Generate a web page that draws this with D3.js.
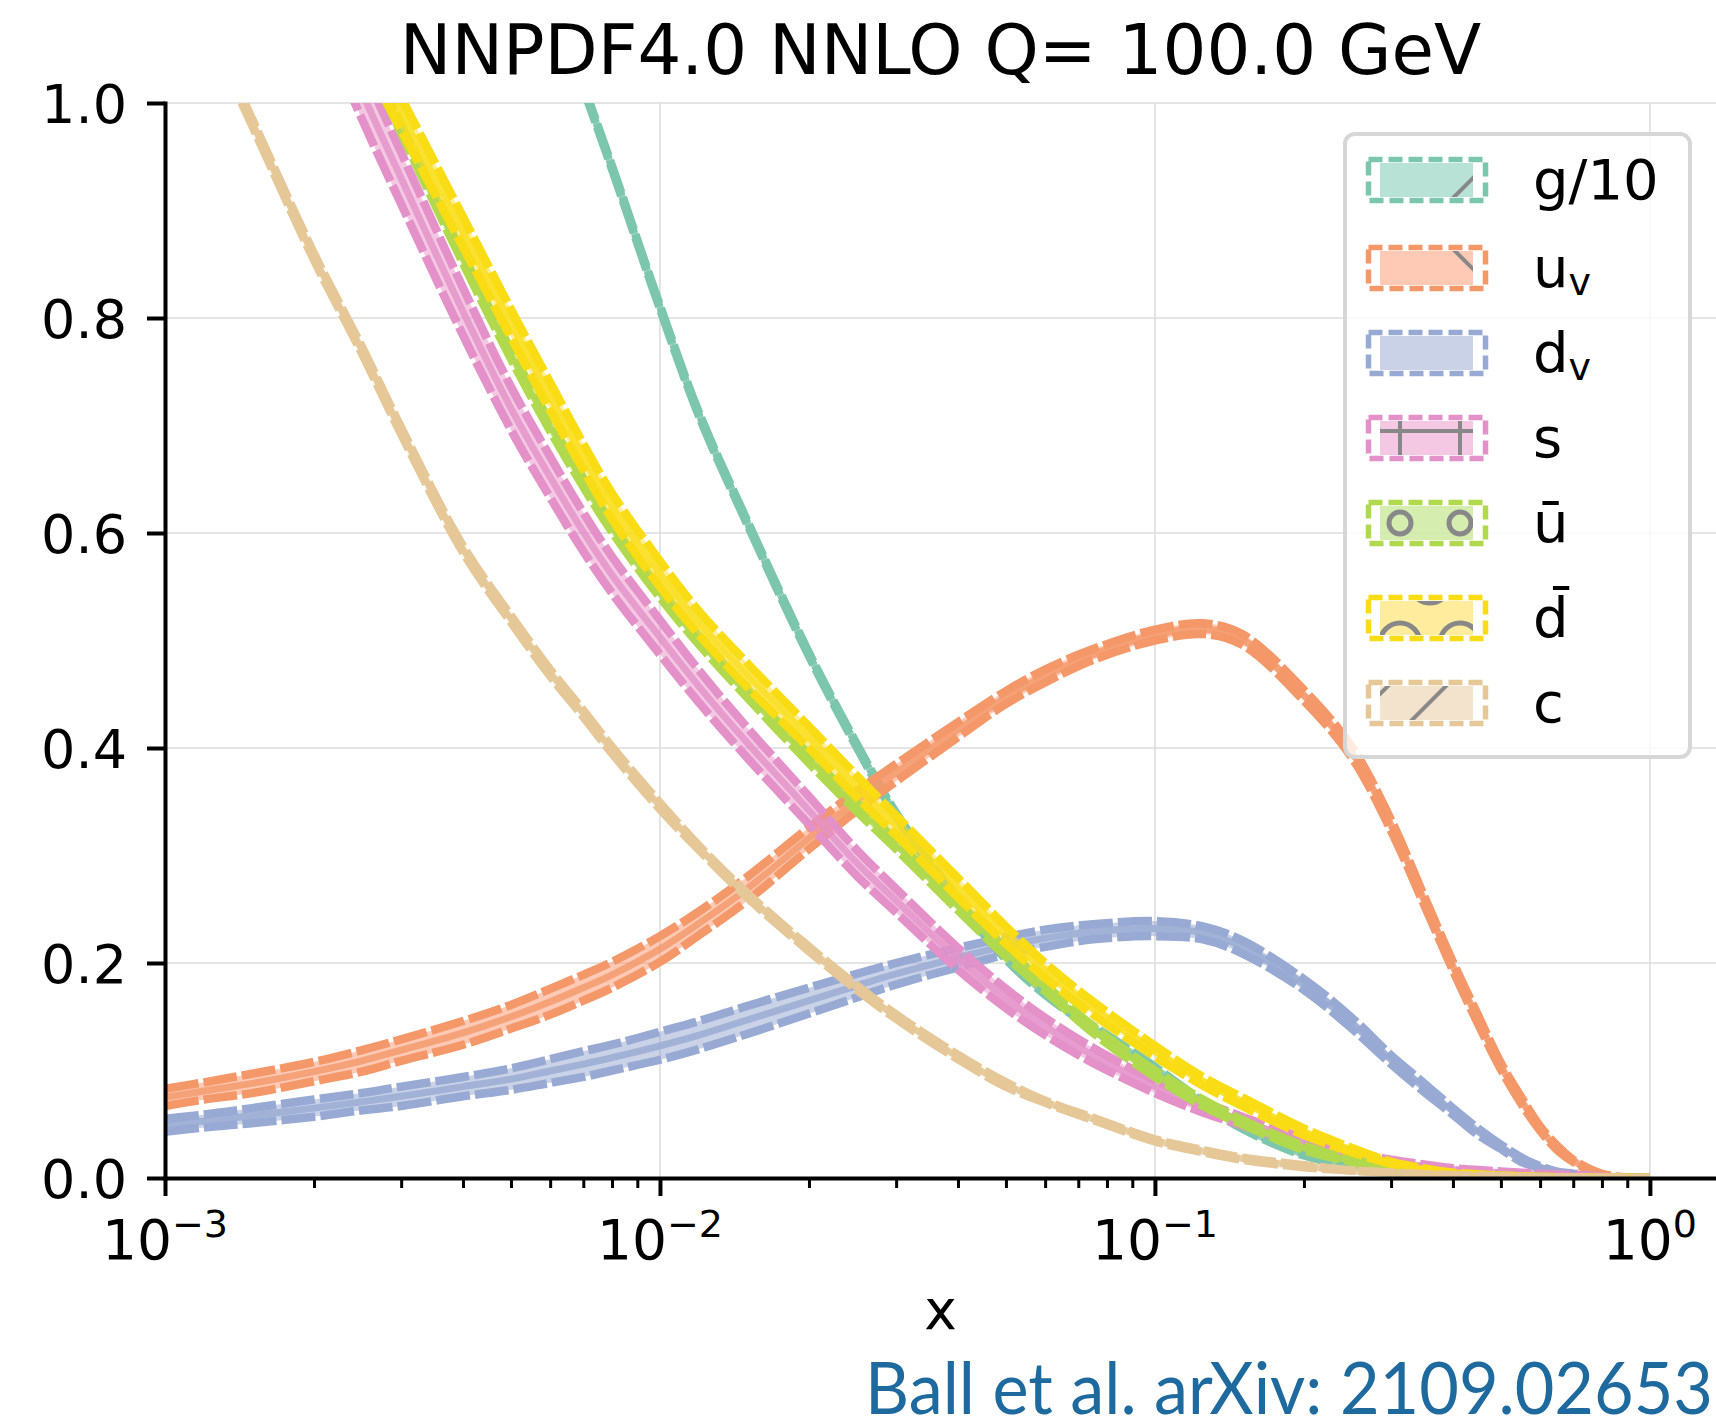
<!DOCTYPE html>
<html>
<head>
<meta charset="utf-8">
<script src="https://cdn.jsdelivr.net/npm/d3@7"></script>
<style>
  body { margin: 0; background: #fff; }
  svg { display: block; font-family: 'DejaVu Sans', sans-serif; }
</style>
</head>
<body>
<svg id="chart"></svg>
<script>
// x grid shared by all the PDFs (Q = 100 GeV)
let xGrid = [0.001, 0.0012, 0.0015, 0.002, 0.0025, 0.003, 0.004, 0.005, 0.006, 0.007, 0.008,
  0.01, 0.012, 0.015, 0.02, 0.025, 0.03, 0.04, 0.05, 0.06, 0.075,
  0.1, 0.125, 0.15, 0.2, 0.25, 0.3, 0.35, 0.4, 0.45, 0.5, 0.55, 0.6, 0.65, 0.7, 0.8, 0.9, 1.0];

// central values (null = off the top of the plot)
let gluon10 = [null, null, null, null, null, null, null, 1.22, 1.10, 1.015, 0.94,
  0.81, 0.71, 0.61, 0.487, 0.402, 0.338, 0.258, 0.205, 0.172, 0.140,
  0.102, 0.070, 0.047, 0.022, 0.012, 0.006, 0.003, 0.0018, 0.001, 0.0006, 0.0003, 0.0002, 0.0001, 0.0001, 0, 0, 0];
let uValence = [0.075, 0.081, 0.088, 0.099, 0.109, 0.119, 0.135, 0.150, 0.164, 0.177, 0.189,
  0.213, 0.237, 0.269, 0.316, 0.351, 0.377, 0.417, 0.447, 0.467, 0.487,
  0.505, 0.511, 0.501, 0.449, 0.396, 0.328, 0.258, 0.197, 0.147, 0.104, 0.072, 0.046, 0.028, 0.016, 0.003, 0.0005, 0];
let dValence = [0.049, 0.053, 0.058, 0.065, 0.071, 0.076, 0.085, 0.092, 0.0995, 0.106, 0.112,
  0.123, 0.133, 0.147, 0.165, 0.179, 0.190, 0.205, 0.216, 0.223, 0.229,
  0.232, 0.228, 0.215, 0.180, 0.144, 0.110, 0.084, 0.062, 0.043, 0.029, 0.017, 0.010, 0.005, 0.003, 0.0005, 0, 0];
let strange = [null, null, null, 1.115, 1.01, 0.93, 0.806, 0.716, 0.652, 0.601, 0.561,
  0.503, 0.457, 0.405, 0.342, 0.293, 0.258, 0.204, 0.167, 0.141, 0.114,
  0.085, 0.066, 0.053, 0.034, 0.022, 0.015, 0.011, 0.008, 0.0065, 0.005, 0.004, 0.003, 0.0025, 0.002, 0.001, 0.0005, 0];
let uBar = [null, null, null, 1.15, 1.052, 0.976, 0.855, 0.766, 0.699, 0.647, 0.605,
  0.544, 0.50, 0.451, 0.39, 0.345, 0.31, 0.253, 0.21, 0.177, 0.138,
  0.097, 0.070, 0.052, 0.028, 0.016, 0.008, 0.005, 0.0035, 0.0025, 0.002, 0.0015, 0.001, 0.0008, 0.0005, 0.0003, 0.0001, 0];
let dBar = [null, null, null, 1.15, 1.06, 0.99, 0.88, 0.795, 0.727, 0.671, 0.625,
  0.562, 0.516, 0.468, 0.41, 0.364, 0.328, 0.27, 0.226, 0.193, 0.158,
  0.118, 0.090, 0.071, 0.043, 0.026, 0.014, 0.008, 0.0045, 0.003, 0.002, 0.0015, 0.001, 0.0007, 0.0005, 0.0002, 0.0001, 0];
let charm = [1.17, 1.08, 0.982, 0.857, 0.77, 0.695, 0.585, 0.52, 0.47, 0.432, 0.398,
  0.346, 0.307, 0.263, 0.213, 0.177, 0.150, 0.1125, 0.087, 0.071, 0.055,
  0.035, 0.025, 0.018, 0.011, 0.007, 0.005, 0.0035, 0.0025, 0.002, 0.0015, 0.001, 0.0008, 0.0006, 0.0004, 0.0002, 0.0001, 0];

// half-widths of the uncertainty bands
let gluon10Err = [0, 0, 0, 0, 0, 0, 0, 0.0015, 0.0015, 0.0015, 0.0015,
  0.0015, 0.0015, 0.0015, 0.0015, 0.0015, 0.0015, 0.0015, 0.0015, 0.0015, 0.0015,
  0.0015, 0.001, 0.001, 0.001, 0.0005, 0, 0, 0, 0, 0, 0, 0, 0, 0, 0, 0, 0];
let uValenceErr = [0.008, 0.008, 0.009, 0.009, 0.010, 0.010, 0.011, 0.011, 0.012, 0.012, 0.012,
  0.012, 0.011, 0.011, 0.010, 0.009, 0.008, 0.007, 0.006, 0.006, 0.005,
  0.005, 0.005, 0.005, 0.005, 0.005, 0.005, 0.004, 0.004, 0.004, 0.003, 0.003, 0.002, 0.002, 0.001, 0.001, 0, 0];
let dValenceErr = [0.006, 0.006, 0.007, 0.008, 0.008, 0.009, 0.009, 0.010, 0.011, 0.012, 0.012,
  0.013, 0.013, 0.013, 0.012, 0.011, 0.010, 0.009, 0.008, 0.008, 0.007,
  0.007, 0.006, 0.006, 0.005, 0.005, 0.004, 0.004, 0.003, 0.003, 0.002, 0.002, 0.001, 0.001, 0.001, 0, 0, 0];
let strangeErr = [0, 0, 0, 0.026, 0.025, 0.024, 0.022, 0.020, 0.019, 0.018, 0.017,
  0.016, 0.015, 0.014, 0.013, 0.012, 0.011, 0.010, 0.009, 0.008, 0.007,
  0.006, 0.005, 0.004, 0.003, 0.002, 0.002, 0.0015, 0.001, 0.001, 0.001, 0.001, 0.001, 0.001, 0.001, 0.0005, 0, 0];
let uBarErr = [0, 0, 0, 0.004, 0.004, 0.004, 0.004, 0.004, 0.004, 0.004, 0.004,
  0.004, 0.004, 0.004, 0.004, 0.004, 0.004, 0.004, 0.004, 0.003, 0.003,
  0.003, 0.003, 0.002, 0.002, 0.001, 0.001, 0.001, 0.0005, 0.0005, 0, 0, 0, 0, 0, 0, 0, 0];
let dBarErr = [0, 0, 0, 0.016, 0.015, 0.015, 0.014, 0.013, 0.013, 0.012, 0.012,
  0.012, 0.011, 0.011, 0.010, 0.010, 0.009, 0.009, 0.008, 0.007, 0.006,
  0.005, 0.004, 0.004, 0.003, 0.002, 0.001, 0.001, 0.0005, 0.0005, 0, 0, 0, 0, 0, 0, 0, 0];
let charmErr = [0.003, 0.003, 0.003, 0.003, 0.003, 0.003, 0.003, 0.003, 0.003, 0.003, 0.003,
  0.003, 0.002, 0.002, 0.002, 0.002, 0.002, 0.002, 0.002, 0.001, 0.001,
  0.001, 0.001, 0.001, 0.001, 0, 0, 0, 0, 0, 0, 0, 0, 0, 0, 0, 0, 0];

let yTicks = [0, 0.2, 0.4, 0.6, 0.8, 1.0];
let xTicks = [1e-3, 1e-2, 1e-1, 1];
let xTickExp = ['\u22123', '\u22122', '\u22121', '0'];

let width = 1716;
let height = 1423;
let plotLeft = 165, plotRight = 1716, plotTop = 103, plotBottom = 1178;

let series = [
  { values: gluon10, err: gluon10Err, line: '#7cc6ad', fill: '#66c2a5' },
  { values: uValence, err: uValenceErr, line: '#f4986a', fill: '#fc8d62' },
  { values: dValence, err: dValenceErr, line: '#98aad3', fill: '#8da0cb' },
  { values: strange, err: strangeErr, line: '#e391c8', fill: '#e78ac3' },
  { values: uBar, err: uBarErr, line: '#b0d94d', fill: '#a6d854' },
  { values: dBar, err: dBarErr, line: '#f9dc14', fill: '#ffd92f' },
  { values: charm, err: charmErr, line: '#e6c898', fill: '#e5c494' }
];

let xScale = d3.scaleLog()
  .domain([1e-3, 1.36])
  .range([plotLeft, plotRight]);

let yScale = d3.scaleLinear()
  .domain([0, 1])
  .range([plotBottom, plotTop]);

let svg = d3.select('#chart')
  .attr('width', width)
  .attr('height', height);

let defs = svg.append('defs');
defs.append('clipPath')
  .attr('id', 'plot-clip')
  .append('rect')
  .attr('x', plotLeft)
  .attr('y', plotTop)
  .attr('width', plotRight - plotLeft)
  .attr('height', plotBottom - plotTop);

// grid
svg.append('g')
  .selectAll('line')
  .data(yTicks.filter(d => d > 0))
  .enter()
  .append('line')
  .attr('x1', plotLeft)
  .attr('x2', plotRight)
  .attr('y1', d => yScale(d))
  .attr('y2', d => yScale(d))
  .style('stroke', '#dddddd')
  .style('stroke-width', 1.6);

svg.append('g')
  .selectAll('line')
  .data(xTicks.slice(1))
  .enter()
  .append('line')
  .attr('x1', d => xScale(d))
  .attr('x2', d => xScale(d))
  .attr('y1', plotTop)
  .attr('y2', plotBottom)
  .style('stroke', '#dddddd')
  .style('stroke-width', 1.6);

// PDF bands
let plot = svg.append('g').attr('clip-path', 'url(#plot-clip)');
let curve = d3.curveCatmullRom.alpha(0.5);

series.forEach(s => {
  let pts = xGrid.map((x, j) => ({ x: x, v: s.values[j], e: s.err[j] }))
    .filter(d => d.v !== null);

  let area = d3.area()
    .x(d => xScale(d.x))
    .y0(d => yScale(d.v - d.e))
    .y1(d => yScale(d.v + d.e))
    .curve(curve);

  let line = f => d3.line()
    .x(d => xScale(d.x))
    .y(d => yScale(f(d)))
    .curve(curve);

  let g = plot.append('g');

  g.append('path')
    .attr('d', area(pts))
    .style('fill', s.fill)
    .style('fill-opacity', 0.47);

  g.append('path')
    .attr('d', line(d => d.v)(pts))
    .style('fill', 'none')
    .style('stroke', s.line)
    .style('stroke-opacity', 0.8)
    .style('stroke-width', 7);

  [d => d.v + d.e, d => d.v - d.e].forEach(f => {
    g.append('path')
      .attr('d', line(f)(pts))
      .style('fill', 'none')
      .style('stroke', s.line)
      .style('stroke-width', 8.5)
      .style('stroke-dasharray', '34 5');
  });
});

// axes
let xAxis = d3.axisBottom(xScale)
  .tickValues(xTicks)
  .tickSize(18)
  .tickSizeOuter(0)
  .tickFormat('');

let minorTicks = [];
[-3, -2, -1].forEach(p => {
  for (let k = 2; k <= 9; k++) minorTicks.push(k * Math.pow(10, p));
});

let xMinor = svg.append('g')
  .attr('transform', 'translate(0,' + plotBottom + ')')
  .call(d3.axisBottom(xScale).tickValues(minorTicks).tickSize(10).tickSizeOuter(0).tickFormat(''));
xMinor.select('.domain').remove();
xMinor.selectAll('.tick line').style('stroke-width', 3);

let xAxisG = svg.append('g')
  .attr('transform', 'translate(0,' + plotBottom + ')')
  .call(xAxis);
xAxisG.select('.domain').style('stroke-width', 4).style('stroke-linecap', 'square');
xAxisG.selectAll('.tick line').style('stroke-width', 4);

let yAxis = d3.axisLeft(yScale)
  .tickValues(yTicks)
  .tickSize(18)
  .tickSizeOuter(0)
  .tickPadding(20)
  .tickFormat(d3.format('.1f'));

let yAxisG = svg.append('g')
  .attr('transform', 'translate(' + plotLeft + ',0)')
  .call(yAxis);
yAxisG.select('.domain').style('stroke-width', 4).style('stroke-linecap', 'square');
yAxisG.selectAll('.tick line').style('stroke-width', 4);
yAxisG.selectAll('.tick text')
  .attr('dy', '0.37em')
  .style('font-family', 'DejaVu Sans')
  .style('font-size', '54px')
  .style('fill', '#000');

// x tick labels as 10^n
let xLabels = svg.append('g')
  .selectAll('text')
  .data(xTicks)
  .enter()
  .append('text')
  .attr('x', d => xScale(d))
  .attr('y', 1259)
  .style('text-anchor', 'middle')
  .style('font-size', '55px');
xLabels.append('tspan').text('10');
xLabels.append('tspan')
  .attr('dy', -22)
  .style('font-size', '38px')
  .text((d, i) => xTickExp[i]);

svg.append('text')
  .attr('x', (plotLeft + plotRight) / 2)
  .attr('y', 1329)
  .style('text-anchor', 'middle')
  .style('font-size', '55px')
  .text('x');

svg.append('text')
  .attr('x', (plotLeft + plotRight) / 2)
  .attr('y', 74)
  .style('text-anchor', 'middle')
  .style('font-size', '69px')
  .text('NNPDF4.0 NNLO Q= 100.0 GeV');

// legend
let legendRowY = [180, 268, 353, 438, 523, 618, 703];
let legendLabels = [
  { main: 'g/10' }, { main: 'u', sub: 'v' }, { main: 'd', sub: 'v' },
  { main: 's' }, { main: '\u016b' }, { main: 'd\u0304' }, { main: 'c' }
];

let legend = svg.append('g');
legend.append('rect')
  .attr('x', 1345)
  .attr('y', 134)
  .attr('width', 345)
  .attr('height', 623)
  .attr('rx', 10)
  .style('fill', '#fff')
  .style('fill-opacity', 0.8)
  .style('stroke', '#d6d6d6')
  .style('stroke-width', 4);

let hatch = '#888888';
series.forEach((s, i) => {
  let c = legendRowY[i];
  let row = legend.append('g');

  defs.append('clipPath')
    .attr('id', 'patch-clip-' + i)
    .append('rect')
    .attr('x', 1380).attr('y', c - 17).attr('width', 93).attr('height', 34);

  row.append('rect')
    .attr('x', 1380).attr('y', c - 17).attr('width', 93).attr('height', 34)
    .style('fill', s.fill)
    .style('fill-opacity', 0.47);

  let h = row.append('g')
    .attr('clip-path', 'url(#patch-clip-' + i + ')')
    .style('stroke', hatch)
    .style('stroke-width', 4)
    .style('fill', 'none');

  if (i === 0) {
    h.append('line').attr('x1', 1441).attr('y1', c + 30).attr('x2', 1481).attr('y2', c - 10);
  } else if (i === 1) {
    h.append('line').attr('x1', 1450).attr('y1', c - 22).attr('x2', 1480).attr('y2', c + 8);
  } else if (i === 3) {
    h.append('line').attr('x1', 1380).attr('y1', c - 7).attr('x2', 1473).attr('y2', c - 7);
    [1400, 1460].forEach(x => h.append('line').attr('x1', x).attr('y1', c - 20).attr('x2', x).attr('y2', c + 20));
  } else if (i === 4) {
    [1400, 1460].forEach(x => h.append('circle').attr('cx', x).attr('cy', c).attr('r', 11).style('stroke-width', 5));
  } else if (i === 5) {
    [1400, 1460].forEach(x => h.append('circle').attr('cx', x).attr('cy', c + 25).attr('r', 20).style('stroke-width', 5));
    h.append('circle').attr('cx', 1430).attr('cy', c - 35).attr('r', 20).style('stroke-width', 5);
  } else if (i === 6) {
    h.append('line').attr('x1', 1409).attr('y1', c + 20).attr('x2', 1449).attr('y2', c - 20);
    h.append('line').attr('x1', 1351).attr('y1', c + 20).attr('x2', 1391).attr('y2', c - 20);
  }

  row.append('rect')
    .attr('x', 1368.5).attr('y', c - 20.5).attr('width', 117).attr('height', 41)
    .style('fill', 'none')
    .style('stroke', s.line)
    .style('stroke-width', 5.5)
    .style('stroke-dasharray', '14 6');

  let t = row.append('text')
    .attr('x', 1533)
    .attr('y', c + 19)
    .style('font-size', '56px');
  t.append('tspan').text(legendLabels[i].main);
  if (legendLabels[i].sub) {
    t.append('tspan')
      .attr('dy', 8)
      .style('font-size', '38px')
      .text(legendLabels[i].sub);
  }
});

// citation
svg.append('text')
  .attr('x', 865)
  .attr('y', 1414)
  .attr('textLength', 848)
  .attr('lengthAdjust', 'spacingAndGlyphs')
  .style('font-family', 'Lato, sans-serif')
  .style('font-size', '72px')
  .style('fill', '#1e6a9e')
  .text('Ball et al. arXiv: 2109.02653');
</script>
</body>
</html>
